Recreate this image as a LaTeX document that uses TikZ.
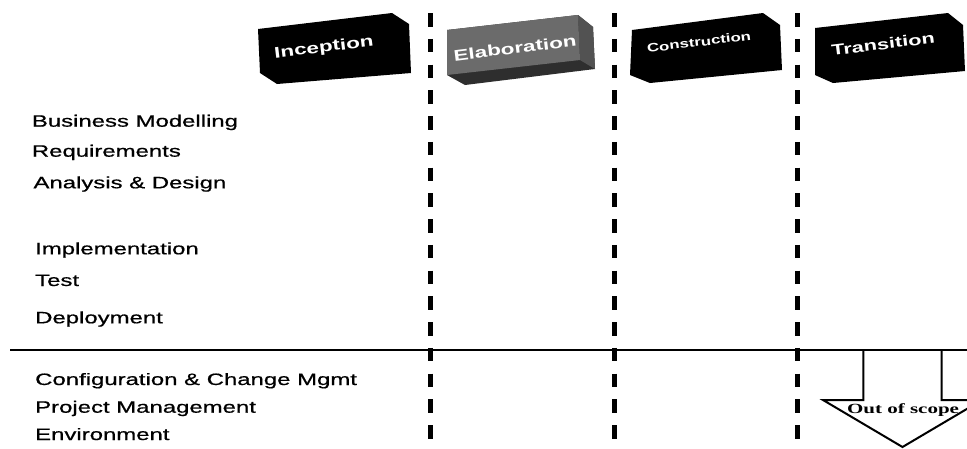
\documentclass[tikz,border=0pt]{standalone}
\usepackage{graphicx}
\usepackage{fontspec}
\setmainfont{Liberation Sans}
\newfontfamily\labelfont[FakeBold=0.6]{Liberation Sans}
\newfontfamily\serifbold{Liberation Serif}
\usetikzlibrary{calc}

% horizontally widened text, as all lettering in this chart is
\newcommand\widetext[2][1.45]{\scalebox{#1}[1]{#2}}

\tikzset{
  lane/.style={line width=5.5pt, dash pattern=on 13.5pt off 12.25pt},
  discipline/.style={anchor=base west, inner sep=0pt,
    font=\labelfont\fontsize{16.5}{18}\selectfont},
  phasetext/.style={inner sep=0pt, text=white, rotate=7,
    font=\bfseries\fontsize{15.5}{17}\selectfont},
  blockbody/.style={fill=black},
  outline/.style={line width=2pt, line join=miter},
}

\begin{document}
\begin{tikzpicture}[x=1pt,y=-1pt]
\useasboundingbox (0,0) rectangle (967,448);
\clip (0,0) rectangle (967,448);

% ---- phase blocks (front face TL, TR, BR, BL plus extrusion) ----
% Inception
\fill[blockbody] (258,29) -- (392,13) -- (409,24) -- (411,73) -- (277,84) -- (260,73) -- cycle;
\node[phasetext] (inception) at (324,48) {\widetext{Inception}};

% Elaboration (grey)
\fill[black!82] (447,30) -- (578,15) -- (593,27) -- (595,69) -- (465,85) -- (447,75) -- cycle;
\fill[black!68] (578,15) -- (593,27) -- (595,69) -- (580,60) -- cycle;
\fill[black!58] (447,30) -- (578,15) -- (580,60) -- (447,75) -- cycle;
\node[phasetext] (elaboration) at (515,48) {\widetext{Elaboration}};

% Construction
\fill[blockbody] (632,30) -- (763,13) -- (780,25) -- (782,70) -- (650,83) -- (630,75) -- cycle;
\node[phasetext, font=\bfseries\fontsize{12}{14}\selectfont] (construction) at (699,42) {\widetext[1.4]{Construction}};

% Transition
\fill[blockbody] (815,28) -- (948,13) -- (963,25) -- (965,71) -- (833,83) -- (815,75) -- cycle;
\node[phasetext, font=\bfseries\fontsize{15}{17}\selectfont] (transition) at (883,44) {\widetext{Transition}};

% ---- phase boundaries ----
\coordinate (b1t) at (430.5,13);  \coordinate (b1b) at (430.5,448);
\coordinate (b2t) at (614.5,13);  \coordinate (b2b) at (614.5,448);
\coordinate (b3t) at (797.5,13);  \coordinate (b3b) at (797.5,448);
\draw[lane] (b1t) -- (b1b);
\draw[lane] (b2t) -- (b2b);
\draw[lane] (b3t) -- (b3b);

% ---- disciplines ----
\node[discipline] (bm)   at (31.7,126.7) {\widetext{Business Modelling}};
\node[discipline] (req)  at (31.7,156.7) {\widetext{Requirements}};
\node[discipline] (ad)   at (33.3,188.3) {\widetext{Analysis \& Design}};
\node[discipline] (impl) at (35,254.3)   {\widetext{Implementation}};
\node[discipline] (test) at (35,286)     {\widetext{Test}};
\node[discipline] (dep)  at (35,323.3)   {\widetext{Deployment}};

% supporting disciplines below the separator
\coordinate (sepL) at (10,350);
\coordinate (sepR) at (967,350);
\draw[line width=2pt] (sepL) -- (sepR);

\node[discipline] (ccm) at (35,385)   {\widetext{Configuration \& Change Mgmt}};
\node[discipline] (pm)  at (35,412.7) {\widetext{Project Management}};
\node[discipline] (env) at (35,440)   {\widetext{Environment}};

% ---- out of scope block arrow ----
\draw[outline] (863.3,350) -- (863.3,400) -- (823,400) -- (902.5,447)
  -- (982,400) -- (941.7,400) -- (941.7,350);
\node[anchor=base, inner sep=0pt, font=\serifbold\bfseries\fontsize{14}{16}\selectfont]
  (oos) at (903,413.3) {\widetext[1.5]{Out of scope}};
\end{tikzpicture}
\end{document}
